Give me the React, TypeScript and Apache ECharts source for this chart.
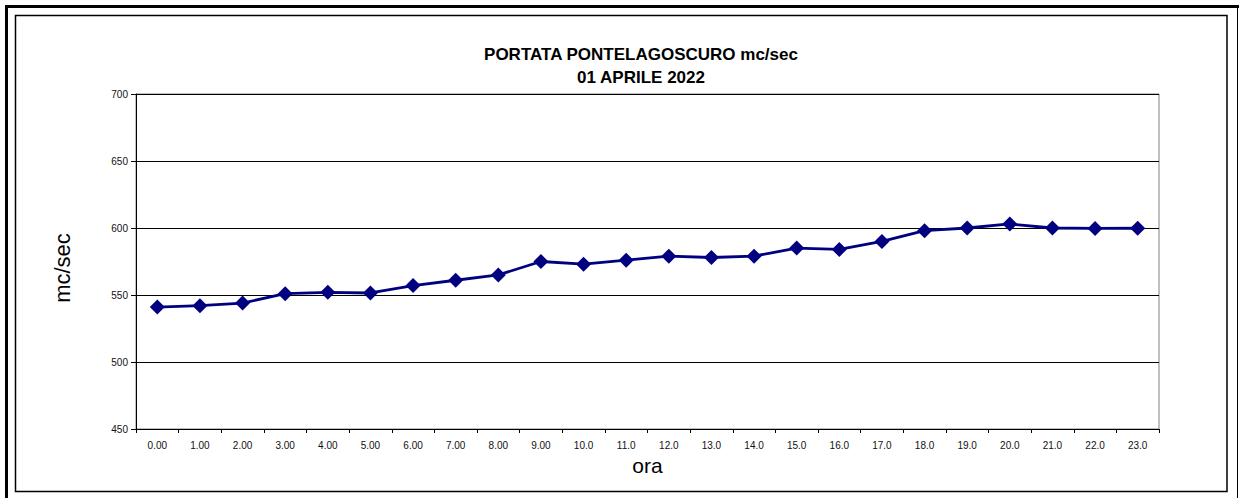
import React, { useEffect, useRef } from "react";
import * as echarts from "echarts";

const hours: string[] = [
  "0.00", "1.00", "2.00", "3.00", "4.00", "5.00", "6.00", "7.00", "8.00", "9.00",
  "10.0", "11.0", "12.0", "13.0", "14.0", "15.0", "16.0", "17.0", "18.0", "19.0",
  "20.0", "21.0", "22.0", "23.0",
];
const flow: number[] = [
  541, 542, 544, 551, 552, 551.5, 557, 561, 565, 575,
  573, 576, 579, 578, 579, 585, 584, 590, 598, 600,
  603, 600, 599.7, 599.8,
];
const titleLines: string[] = ["PORTATA PONTELAGOSCURO mc/sec", "01 APRILE 2022"];

export default function App() {
  const ref = useRef<HTMLDivElement>(null);
  useEffect(() => {
    if (!ref.current) return;
    const chart = echarts.init(ref.current, null, { renderer: "svg" });
    const font = "Arial, 'Liberation Sans', sans-serif";
    chart.setOption({
      animation: false,
      backgroundColor: "#fff",
      textStyle: { fontFamily: font },
      grid: {
        left: 136,
        right: 80,
        top: 94,
        bottom: 69,
        show: true,
        borderColor: "#808080",
        borderWidth: 1,
        backgroundColor: "transparent",
      },
      xAxis: {
        type: "category",
        data: hours,
        boundaryGap: true,
        name: "ora",
        nameLocation: "middle",
        nameGap: 21,
        nameTextStyle: { fontSize: 21, color: "#000", fontFamily: font },
        axisLine: { lineStyle: { color: "#000", width: 1 } },
        axisTick: { show: true, alignWithLabel: false, length: 4, lineStyle: { color: "#000" } },
        axisLabel: { fontSize: 10, color: "#111", margin: 11, interval: 0, fontFamily: font },
        splitLine: { show: false },
      },
      yAxis: {
        type: "value",
        min: 450,
        max: 700,
        interval: 50,
        axisLine: { show: true, lineStyle: { color: "#000", width: 1 } },
        axisTick: { show: true, length: 5, lineStyle: { color: "#000" } },
        axisLabel: { fontSize: 10, color: "#111", margin: 8, fontFamily: font },
        splitLine: { show: true, lineStyle: { color: "#000", width: 1 } },
      },
      series: [
        {
          type: "line",
          data: flow,
          symbol: "diamond",
          symbolSize: [15, 15],
          itemStyle: { color: "#000080" },
          lineStyle: { color: "#000080", width: 2.8 },
          z: 5,
        },
      ],
      graphic: [
        { type: "rect", shape: { x: 5, y: 5, width: 1234, height: 3 }, style: { fill: "#000" }, silent: true },
        { type: "rect", shape: { x: 5, y: 5, width: 3, height: 493 }, style: { fill: "#000" }, silent: true },
        { type: "line", shape: { x1: 1237.5, y1: 8, x2: 1237.5, y2: 498 }, style: { stroke: "#000", lineWidth: 1 }, silent: true },
        { type: "rect", shape: { x: 15.5, y: 15.5, width: 1211.5, height: 476 }, style: { fill: "none", stroke: "#000", lineWidth: 1.5 }, silent: true },
        {
          type: "text",
          x: 641,
          y: 54,
          style: { text: titleLines[0], fill: "#000", font: "bold 17px " + font, textAlign: "center", textVerticalAlign: "middle" },
          silent: true,
        },
        {
          type: "text",
          x: 641,
          y: 77,
          style: { text: titleLines[1], fill: "#000", font: "bold 17px " + font, textAlign: "center", textVerticalAlign: "middle" },
          silent: true,
        },
        {
          type: "text",
          x: 62,
          y: 268,
          rotation: Math.PI / 2,
          style: { text: "mc/sec", fill: "#000", font: "22px " + font, textAlign: "center", textVerticalAlign: "middle" },
          silent: true,
        },
      ],
    });
    return () => chart.dispose();
  }, []);
  return (
    <div
      ref={ref}
      style={{ position: "fixed", left: 0, top: 0, width: 1239, height: 498, background: "#fff" }}
    />
  );
}
